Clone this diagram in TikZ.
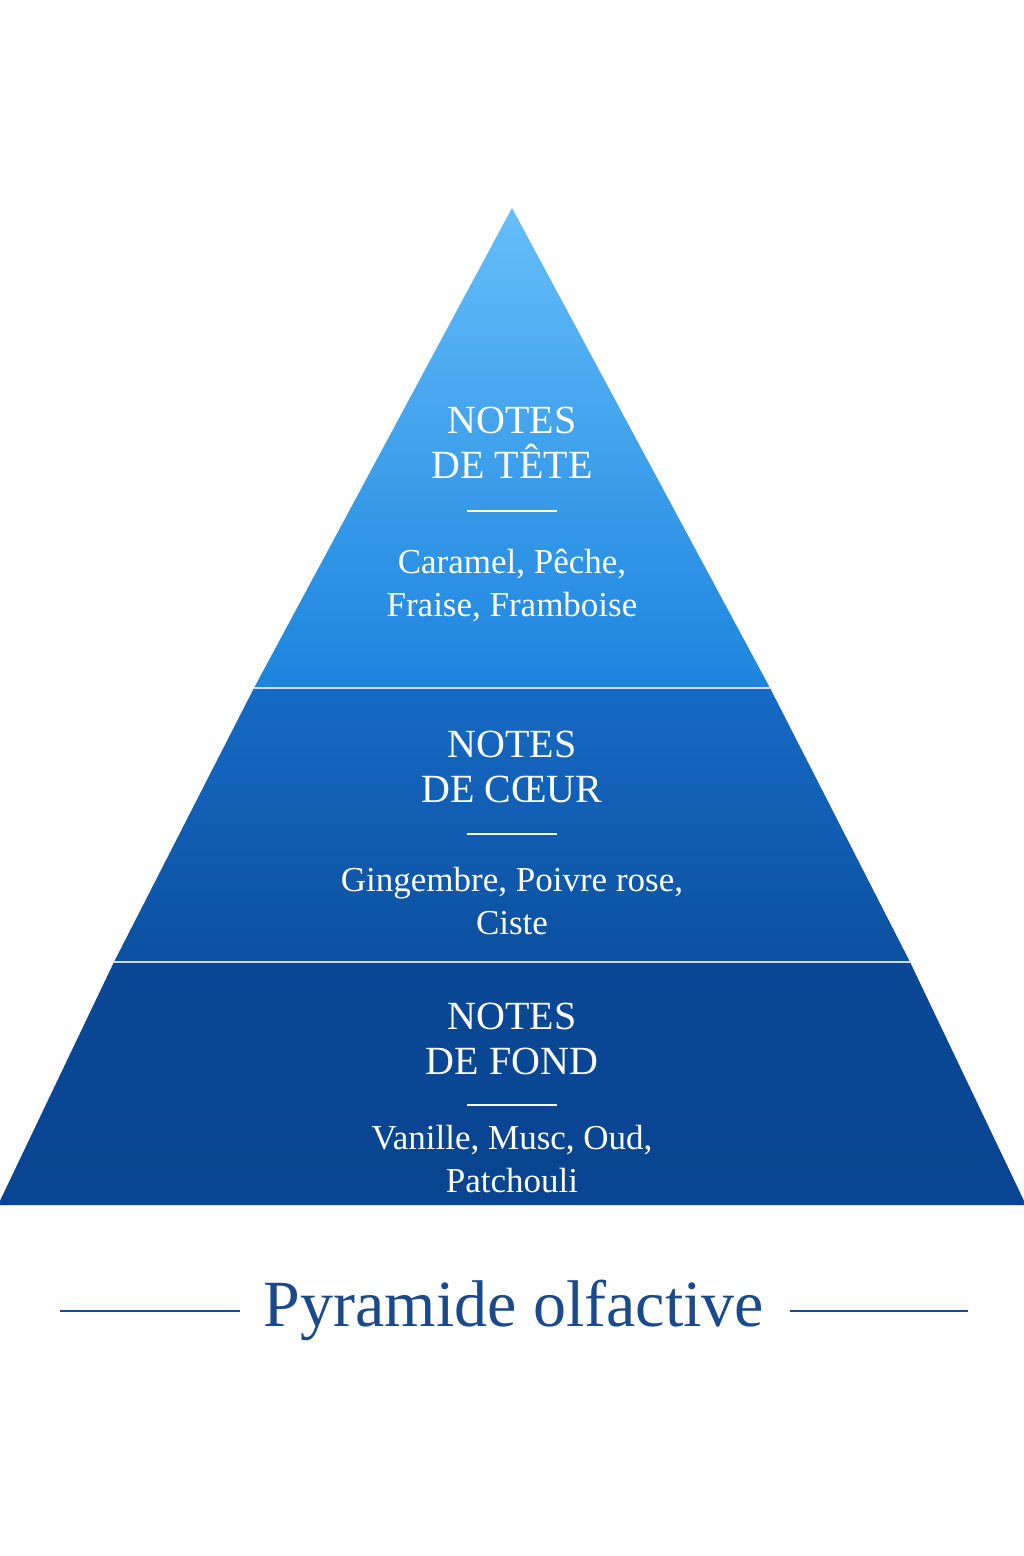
\documentclass[tikz,border=0pt]{standalone}
\usepackage{fontspec}
\setmainfont{Liberation Serif}
\definecolor{titleblue}{HTML}{1A4A8C}
\begin{document}
\begin{tikzpicture}[x=1pt,y=-1pt,
  head/.style={text=white,font=\fontsize{40}{45}\selectfont,align=center},
  body/.style={text=white,font=\fontsize{35}{43}\selectfont,align=center},
  sep/.style={white,line width=1.6pt},
  tline/.style={titleblue,line width=1.6pt}]
\useasboundingbox (0,0) rectangle (1024,1556);
\fill[white] (0,0) rectangle (1024,1556);
\coordinate (apex) at (512,208);
\coordinate (bl) at (-2,1205);
\coordinate (br) at (1026,1205);
\shade[top color={rgb,255:red,100;green,190;blue,250}, bottom color={rgb,255:red,28;green,132;blue,222}]
  (apex) -- (254,688) -- (770,688) -- cycle;
\shade[top color={rgb,255:red,22;green,106;blue,196}, bottom color={rgb,255:red,12;green,80;blue,160}]
  (254,688) -- (770,688) -- (910,962) -- (114,962) -- cycle;
\shade[top color={rgb,255:red,10;green,72;blue,150}, bottom color={rgb,255:red,8;green,68;blue,144}]
  (114,962) -- (910,962) -- (br) -- (bl) -- cycle;
\coordinate (d1l) at (254,688); \coordinate (d1r) at (770,688);
\coordinate (d2l) at (114,962); \coordinate (d2r) at (910,962);
\draw[line width=2pt,white!85!blue] (d1l) -- (d1r);
\draw[line width=2pt,white!85!blue] (d2l) -- (d2r);
\node[head] (h1) at (512,443) {NOTES\\DE TÊTE};
\coordinate (s1l) at (467,511); \coordinate (s1r) at (557,511);
\draw[sep] (s1l) -- (s1r);
\node[body] (b1) at (512,586) {Caramel, Pêche,\\Fraise, Framboise};
\node[head] (h2) at (512,767) {NOTES\\DE CŒUR};
\coordinate (s2l) at (467,834); \coordinate (s2r) at (557,834);
\draw[sep] (s2l) -- (s2r);
\node[body] (b2) at (512,901) {Gingembre, Poivre rose,\\Ciste};
\node[head] (h3) at (512,1039) {NOTES\\DE FOND};
\coordinate (s3l) at (467,1105); \coordinate (s3r) at (557,1105);
\draw[sep] (s3l) -- (s3r);
\node[body] (b3) at (512,1159) {Vanille, Musc, Oud,\\Patchouli};
\node[text=titleblue,font=\fontsize{66}{72}\selectfont] (title) at (514,1310) {Pyramide olfactive};
\coordinate (t1) at (60,1311); \coordinate (t2) at (240,1311);
\coordinate (t3) at (790,1311); \coordinate (t4) at (968,1311);
\draw[tline] (t1) -- (t2);
\draw[tline] (t3) -- (t4);
\end{tikzpicture}
\end{document}
